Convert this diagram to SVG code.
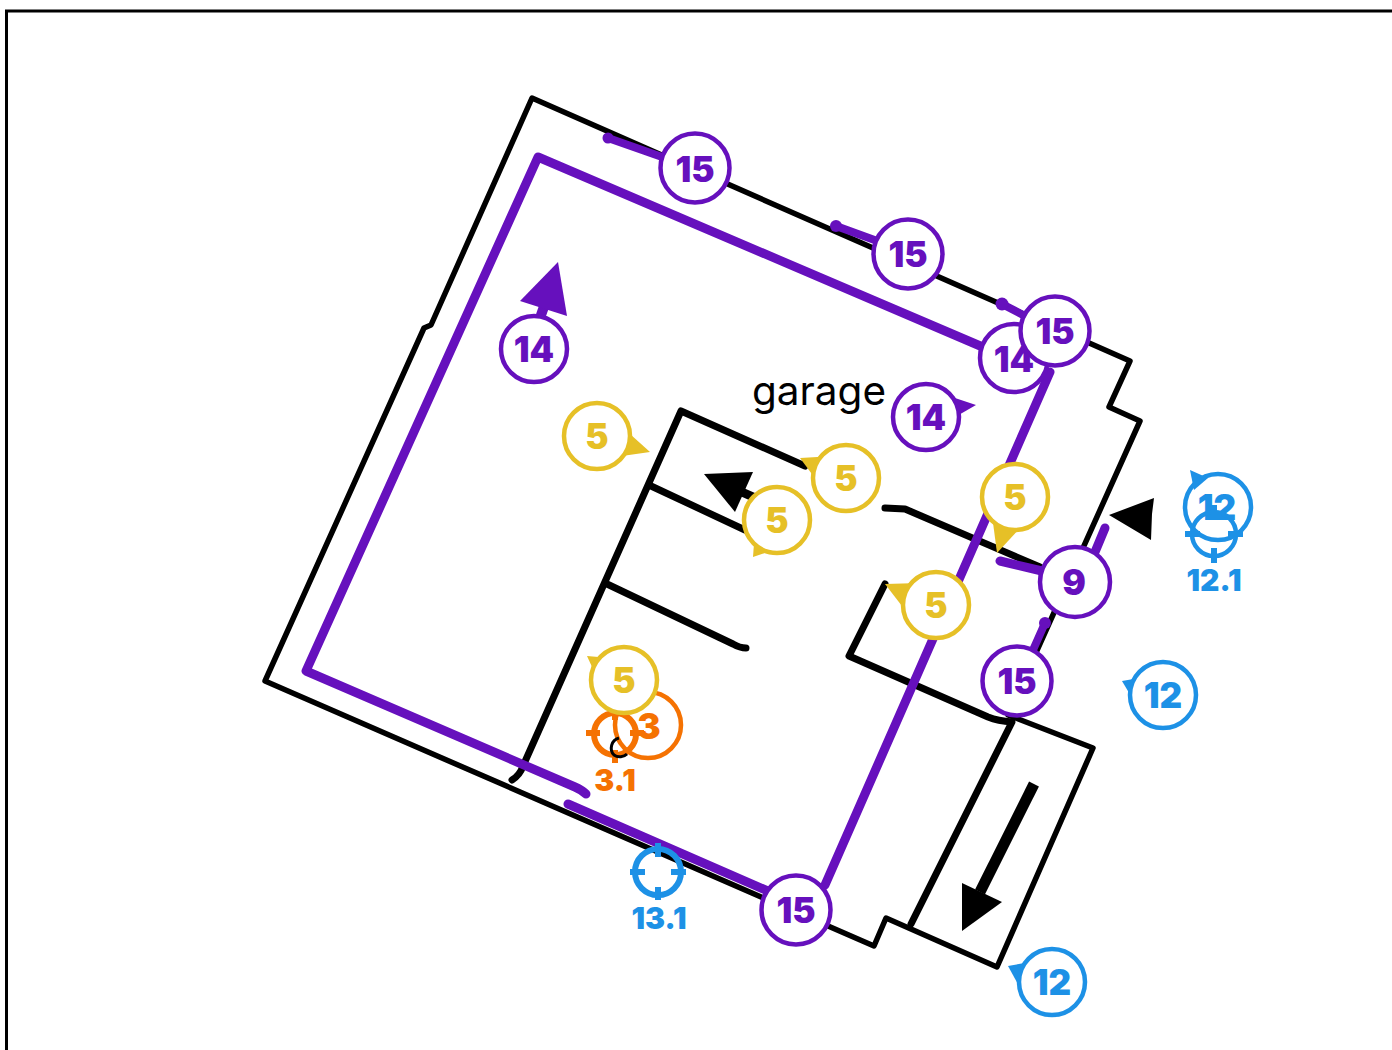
<svg xmlns="http://www.w3.org/2000/svg" width="1392" height="1050" viewBox="0 0 1392 1050">
<style>
text{font-family:"Inter","Noto Sans",sans-serif;font-weight:900;text-anchor:middle}
.n{font-size:35px}
.s{font-size:30px}
.w{fill:none;stroke:#000;stroke-width:7;stroke-linecap:round;stroke-linejoin:round}
.o{fill:none;stroke:#000;stroke-width:5.5;stroke-linecap:round;stroke-linejoin:round}
.p{fill:none;stroke:#6610bd;stroke-width:9;stroke-linecap:round;stroke-linejoin:round}
.st{fill:none;stroke:#6610bd;stroke-width:8;stroke-linecap:round}
.d{fill:#6610bd}
.c{fill:#fff;stroke-width:4.5}
.pu{stroke:#6610bd}.pt{fill:#6610bd}
.ye{stroke:#e6c027}.yt{fill:#e6c027}
.bl{stroke:#1d91e6}.bt{fill:#1d91e6}
.or{stroke:#f57202}.ot{fill:#f57202}
.t{fill:none;stroke-width:6}
</style>
<rect x="6.5" y="11" width="1500" height="1200" fill="none" stroke="#000" stroke-width="3"/>
<g id="connectors">
<path class="o" d="M532 98L1130 361L1109 407L1140 421L1008 715L1093 748L997 967L886 918L874 946L265 681L424 328L431 325Z"/>
<path class="w" d="M805 466L681 411L523 766Q520 775 512 780"/>
<path class="w" d="M651 486L745 530"/>
<path class="w" d="M607 584L733 644Q740 648 746 648"/>
<path class="w" d="M885 508L905 509L1040 567"/>
<path class="w" d="M885 584L849 656L988 717Q998 721 1012 722L911 924"/>
<path class="p" d="M985 348L538 157L306 671L575 787Q582 790 586 794"/>
<path class="p" d="M568 804L770 892"/>
<path class="p" d="M1050 372L825 885"/>
<path class="st" d="M608 138L665 158"/><circle class="d" cx="608" cy="138" r="5.5"/>
<path class="st" d="M836 226L880 242"/><circle class="d" cx="836" cy="226" r="6"/>
<path class="st" d="M1002 304L1025 316"/><circle class="d" cx="1002" cy="304" r="6.5"/>
<path class="p" d="M1000 561L1042 571"/>
<path class="p" d="M1105 528L1095 552"/>
<path class="st" d="M1045 623L1033 650"/><circle class="d" cx="1045" cy="623" r="6"/>
<path fill="none" stroke="#6610bd" stroke-width="10" d="M540 318L547 298"/>
<path fill="#6610bd" d="M558 262L567 316L520 301Z"/>
<path fill="none" stroke="#000" stroke-width="9" d="M760 500L735 489"/>
<path fill="#000" d="M704 474L753 472L735 512Z"/>
<path fill="#000" d="M1109 515L1154 498L1152 514L1151 540Z"/>
<path fill="none" stroke="#000" stroke-width="11" d="M1034 784L980 892"/>
<path fill="#000" d="M962 931L962 883L1002 902Z"/>
</g>
<g id="t31"><circle class="t or" cx="615" cy="734" r="21"/><path class="or" stroke-width="6" d="M586 733H600M630 733H644M615 708V720M615 750V763" fill="none"/><text class="s ot" x="615" y="791">3.1</text></g>
<g id="t131"><circle class="t bl" cx="658" cy="872" r="23"/><path class="bl" stroke-width="6" d="M630 872H645M671 872H686M658 843V857M658 887V900" fill="none"/><text class="s bt" x="659" y="929">13.1</text></g>
<g id="n3"><circle cx="648" cy="725" r="33" fill="none" stroke="#f57202" stroke-width="4.5"/><text class="n ot" x="649" y="739">3</text></g>
<path fill="none" stroke="#000" stroke-width="3" d="M619 738C611 740 609 750 614 755C618 758 624 757 627 754"/>
<g id="n5a"><path class="yt" d="M630 434L650 452L622 456Z"/><circle class="c ye" cx="597" cy="436" r="33"/><text class="n yt" x="597" y="449">5</text></g>
<g id="n5b"><path class="yt" d="M800 458L835 456L820 485Z"/><circle class="c ye" cx="846" cy="478" r="33"/><text class="n yt" x="846" y="491">5</text></g>
<g id="n5c"><path class="yt" d="M753 557L755 530L780 548Z"/><circle class="c ye" cx="777" cy="520" r="33"/><text class="n yt" x="777" y="533">5</text></g>
<g id="n5d"><path class="yt" d="M997 553L992 515L1020 528Z"/><circle class="c ye" cx="1015" cy="497" r="33"/><text class="n yt" x="1015" y="510">5</text></g>
<g id="n5e"><path class="yt" d="M885 584L920 583L905 610Z"/><circle class="c ye" cx="936" cy="605" r="33"/><text class="n yt" x="936" y="618">5</text></g>
<g id="n5f"><path class="yt" d="M587 656L610 658L598 680Z"/><circle class="c ye" cx="624" cy="680" r="33"/><text class="n yt" x="624" y="693">5</text></g>
<g id="n14a"><circle class="c pu" cx="534" cy="349" r="33"/><text class="n pt" x="534" y="362">14</text></g>
<g id="n14b"><circle class="c pu" cx="1014" cy="358" r="34"/><text class="n pt" x="1014" y="372">14</text></g>
<g id="n14c"><path class="pt" d="M976 405L950 420L952 397Z"/><circle class="c pu" cx="926" cy="417" r="33"/><text class="n pt" x="926" y="430">14</text></g>
<g id="n15a"><circle class="c pu" cx="695" cy="168" r="34.5"/><text class="n pt" x="695" y="182">15</text></g>
<g id="n15b"><circle class="c pu" cx="908" cy="254" r="34.5"/><text class="n pt" x="908" y="267">15</text></g>
<g id="n15c"><circle class="c pu" cx="1055" cy="331" r="34.5"/><text class="n pt" x="1055" y="344">15</text></g>
<g id="n15d"><circle class="c pu" cx="1017" cy="681" r="34.5"/><text class="n pt" x="1017" y="694">15</text></g>
<g id="n15e"><circle class="c pu" cx="796" cy="910" r="34.5"/><text class="n pt" x="796" y="923">15</text></g>
<g id="n9"><circle class="c pu" cx="1075" cy="582" r="35"/><text class="n pt" x="1074" y="595">9</text></g>
<g id="n12a"><path class="bt" d="M1190 470L1208 478L1194 490Z"/><circle cx="1218" cy="507" r="33" fill="none" stroke="#1d91e6" stroke-width="4.5"/><text class="n bt" x="1217" y="520">12</text></g>
<g id="t121"><circle fill="none" class="bl" stroke-width="4.5" cx="1214" cy="534" r="22"/><path class="bl" stroke-width="6" d="M1185 534H1200M1228 534H1243M1214 505V520M1214 548V563" fill="none"/><text class="s bt" x="1214" y="591">12.1</text></g>
<g id="n12b"><path class="bt" d="M1122 681L1145 677L1135 703Z"/><circle class="c bl" cx="1163" cy="695" r="33"/><text class="n bt" x="1163" y="708">12</text></g>
<g id="n12c"><path class="bt" d="M1008 966L1030 962L1020 988Z"/><circle class="c bl" cx="1052" cy="982" r="33"/><text class="n bt" x="1052" y="995">12</text></g>
<text x="819" y="405" font-size="40.5" style="font-weight:400" fill="#000">garage</text>
</svg>
